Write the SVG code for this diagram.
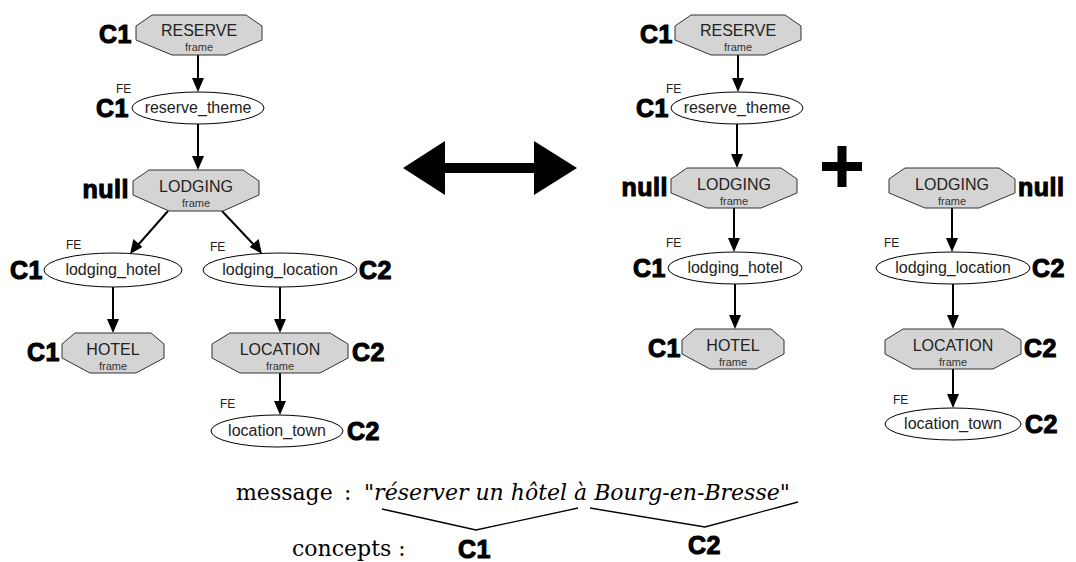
<svg xmlns="http://www.w3.org/2000/svg" width="1076" height="562" viewBox="0 0 1076 562">
<style>
.oct{fill:#d4d4d4;stroke:#333;stroke-width:1}
.ell{fill:#fff;stroke:#000;stroke-width:1}
.nt{font-family:"Liberation Sans",Arial,sans-serif;font-size:16px;fill:#222;text-anchor:middle}
.fr{font-family:"Liberation Sans",Arial,sans-serif;font-size:11px;fill:#333;text-anchor:middle}
.fe{font-family:"Liberation Sans",Arial,sans-serif;font-size:12px;fill:#222}
.lb{font-family:"Liberation Sans",Arial,sans-serif;font-size:25px;font-weight:bold;fill:#000;stroke:#000;stroke-width:1.1;letter-spacing:0.5px}
.lbe{text-anchor:end}
.cn line{stroke:#000;stroke-width:2}
.sf{font-family:"DejaVu Serif",serif;font-size:22px;fill:#000}
.br{fill:none;stroke:#000;stroke-width:1.3}
</style>

<!-- connectors -->
<g id="connectors" class="cn">
<line x1="198" y1="55" x2="198" y2="80"/>
<line x1="198" y1="124" x2="198" y2="158"/>
<line x1="168" y1="211" x2="138" y2="245"/>
<line x1="222" y1="211" x2="254" y2="245"/>
<line x1="113" y1="287" x2="113" y2="321"/>
<line x1="280" y1="287" x2="280" y2="321"/>
<line x1="280" y1="373" x2="280" y2="403"/>
<line x1="738" y1="55" x2="738" y2="80"/>
<line x1="737" y1="124" x2="737" y2="156"/>
<line x1="734" y1="208" x2="734" y2="240"/>
<line x1="735" y1="284" x2="735" y2="317"/>
<line x1="952" y1="208" x2="952" y2="240"/>
<line x1="953" y1="284" x2="953" y2="317"/>
<line x1="953" y1="369" x2="953" y2="396"/>
</g>
<g id="arrowheads" fill="#000">
<path d="M198,92 l-6,-14 h12 z"/>
<path d="M198,170 l-6,-14 h12 z"/>
<path d="M130,254 l3.4,-15.1 l9,8 z"/>
<path d="M262,254 l-12.4,-7.1 l9,-8 z"/>
<path d="M113,333 l-6,-14 h12 z"/>
<path d="M280,333 l-6,-14 h12 z"/>
<path d="M280,415 l-6,-14 h12 z"/>
<path d="M738,92 l-6,-14 h12 z"/>
<path d="M737,168 l-6,-14 h12 z"/>
<path d="M734,252 l-6,-14 h12 z"/>
<path d="M735,329 l-6,-14 h12 z"/>
<path d="M952,252 l-6,-14 h12 z"/>
<path d="M953,329 l-6,-14 h12 z"/>
<path d="M953,408 l-6,-14 h12 z"/>
</g>

<!-- left tree -->
<g id="L-reserve">
<polygon class="oct" points="152,15 246,15 262,26 262,40 226,55 172,55 136,40 136,26"/>
<text class="nt" x="199" y="36">RESERVE</text>
<text class="fr" x="199" y="51">frame</text>
<text class="lb lbe" x="132" y="43">C1</text>
</g>
<g id="L-reserve_theme">
<ellipse class="ell" cx="198" cy="108" rx="66" ry="16"/>
<text class="nt" x="198" y="113">reserve_theme</text>
<text class="fe" x="116" y="93">FE</text>
<text class="lb lbe" x="129" y="117">C1</text>
</g>
<g id="L-lodging">
<polygon class="oct" points="149,170 243,170 259,181 259,195 223,211 169,211 133,195 133,181"/>
<text class="nt" x="196" y="192">LODGING</text>
<text class="fr" x="196" y="207">frame</text>
<text class="lb lbe" x="129" y="198">null</text>
</g>
<g id="L-lodging_hotel">
<ellipse class="ell" cx="113" cy="270" rx="69" ry="17"/>
<text class="nt" x="113" y="275">lodging_hotel</text>
<text class="fe" x="66" y="249">FE</text>
<text class="lb lbe" x="43" y="279">C1</text>
</g>
<g id="L-lodging_location">
<ellipse class="ell" cx="280" cy="270" rx="77" ry="17"/>
<text class="nt" x="280" y="275">lodging_location</text>
<text class="fe" x="210" y="251">FE</text>
<text class="lb" x="359" y="279">C2</text>
</g>
<g id="L-hotel">
<polygon class="oct" points="75,333 151,333 164,344 164,358 136,373 90,373 62,358 62,344"/>
<text class="nt" x="113" y="355">HOTEL</text>
<text class="fr" x="113" y="370">frame</text>
<text class="lb lbe" x="60" y="361">C1</text>
</g>
<g id="L-location">
<polygon class="oct" points="230,333 330,333 348,344 348,358 320,373 240,373 212,358 212,344"/>
<text class="nt" x="280" y="355">LOCATION</text>
<text class="fr" x="280" y="370">frame</text>
<text class="lb" x="352" y="361">C2</text>
</g>
<g id="L-location_town">
<ellipse class="ell" cx="277" cy="431" rx="66" ry="16"/>
<text class="nt" x="277" y="436">location_town</text>
<text class="fe" x="220" y="408">FE</text>
<text class="lb" x="347" y="440">C2</text>
</g>

<!-- double arrow -->
<g id="equiv">
<polygon points="403,168 445,141 445,163 534,163 534,141 577,168 534,195 534,173 445,173 445,195" fill="#000"/>
</g>

<!-- right tree 1 -->
<g id="R-reserve">
<polygon class="oct" points="691,15 785,15 801,26 801,40 765,55 711,55 675,40 675,26"/>
<text class="nt" x="738" y="36">RESERVE</text>
<text class="fr" x="738" y="51">frame</text>
<text class="lb lbe" x="673" y="43">C1</text>
</g>
<g id="R-reserve_theme">
<ellipse class="ell" cx="737" cy="108" rx="66" ry="16"/>
<text class="nt" x="737" y="113">reserve_theme</text>
<text class="fe" x="666" y="93">FE</text>
<text class="lb lbe" x="669" y="117">C1</text>
</g>
<g id="R-lodging">
<polygon class="oct" points="687,168 781,168 797,179 797,193 761,208 707,208 671,193 671,179"/>
<text class="nt" x="734" y="190">LODGING</text>
<text class="fr" x="734" y="205">frame</text>
<text class="lb lbe" x="668" y="196">null</text>
</g>
<g id="R-lodging_hotel">
<ellipse class="ell" cx="735" cy="268" rx="67" ry="16"/>
<text class="nt" x="735" y="273">lodging_hotel</text>
<text class="fe" x="666" y="247">FE</text>
<text class="lb lbe" x="666" y="277">C1</text>
</g>
<g id="R-hotel">
<polygon class="oct" points="695,329 771,329 784,340 784,354 756,369 710,369 682,354 682,340"/>
<text class="nt" x="733" y="351">HOTEL</text>
<text class="fr" x="733" y="366">frame</text>
<text class="lb lbe" x="681" y="357">C1</text>
</g>

<!-- plus -->
<g id="plus" fill="#000">
<rect x="822" y="162" width="40" height="9"/>
<rect x="837.5" y="146" width="9" height="41"/>
</g>

<!-- right tree 2 -->
<g id="R2-lodging">
<polygon class="oct" points="905,168 999,168 1015,179 1015,193 979,208 925,208 889,193 889,179"/>
<text class="nt" x="952" y="190">LODGING</text>
<text class="fr" x="952" y="205">frame</text>
<text class="lb" x="1018" y="196">null</text>
</g>
<g id="R2-lodging_location">
<ellipse class="ell" cx="953" cy="268" rx="77" ry="16"/>
<text class="nt" x="953" y="273">lodging_location</text>
<text class="fe" x="884" y="247">FE</text>
<text class="lb" x="1032" y="277">C2</text>
</g>
<g id="R2-location">
<polygon class="oct" points="903,329 1003,329 1021,340 1021,354 993,369 913,369 885,354 885,340"/>
<text class="nt" x="953" y="351">LOCATION</text>
<text class="fr" x="953" y="366">frame</text>
<text class="lb" x="1024" y="357">C2</text>
</g>
<g id="R2-location_town">
<ellipse class="ell" cx="953" cy="424" rx="68" ry="16"/>
<text class="nt" x="953" y="429">location_town</text>
<text class="fe" x="893" y="404">FE</text>
<text class="lb" x="1025" y="433">C2</text>
</g>

<!-- bottom message -->
<g id="message">
<text class="sf" x="236" y="500">message</text>
<text class="sf" x="344" y="500">:</text>
<text class="sf" x="364" y="500" font-size="22.5" font-style="italic">"réserver un hôtel à Bourg-en-Bresse"</text>
<polyline class="br" points="382,509 476,530 578,508"/>
<polyline class="br" points="590,508 705,527 798,502"/>
<text class="sf" x="292" y="556">concepts :</text>
<text class="lb" x="458" y="558">C1</text>
<text class="lb" x="688" y="554">C2</text>
</g>
</svg>
